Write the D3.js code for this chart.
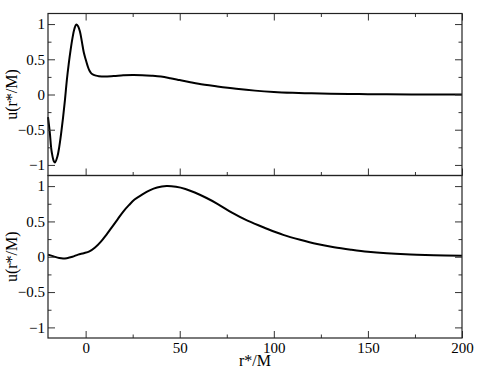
<!DOCTYPE html>
<html>
<head>
<meta charset="utf-8">
<script src="https://cdn.jsdelivr.net/npm/d3@7"></script>
<style>
  body { margin: 0; background: #fff; }
</style>
</head>
<body>
<svg id="chart" width="479" height="370"></svg>
<script>
// values
const xMajor = [0, 50, 100, 150, 200];
const xMinor = [25, 75, 125, 175];
const yMajor = [-1, -0.5, 0, 0.5, 1];
const yMinor = [-0.75, -0.25, 0.25, 0.75];
const xLabel = "r*/M";
const yLabel = "u(r*/M)";

const topX = [-20, -19, -18.4, -18, -17, -16.3, -15, -14, -13, -12, -11, -10, -9, -8, -7, -6, -5, -4, -3, -2, -1, 0, 1, 2, 3, 4, 5.5, 7, 10, 15, 20, 25, 30, 35, 40, 45, 50, 55, 60, 70, 80, 90, 100, 110, 120, 130, 140, 150, 160, 180, 200];
const topY = [-0.32, -0.55, -0.74, -0.82, -0.94, -0.965, -0.88, -0.74, -0.55, -0.33, -0.08, 0.2, 0.43, 0.63, 0.8, 0.93, 0.995, 0.97, 0.89, 0.75, 0.6, 0.5, 0.41, 0.34, 0.3, 0.282, 0.268, 0.26, 0.254, 0.262, 0.272, 0.278, 0.275, 0.267, 0.255, 0.232, 0.205, 0.178, 0.152, 0.115, 0.082, 0.055, 0.036, 0.024, 0.016, 0.011, 0.008, 0.005, 0.003, 0.001, 0];

const bottomX = [-20, -17, -14, -12, -10, -7, -4, -1, 2, 5, 8, 11, 14, 17, 20, 23, 26, 30, 34, 38, 43, 48, 53, 58, 64, 70, 78, 86, 96, 105, 114, 123, 132, 141, 150, 160, 170, 185, 200];
const bottomY = [0.03, 0.005, -0.018, -0.025, -0.02, 0.0, 0.03, 0.05, 0.075, 0.13, 0.21, 0.31, 0.42, 0.53, 0.64, 0.73, 0.81, 0.88, 0.94, 0.98, 1.0, 0.99, 0.96, 0.91, 0.835, 0.75, 0.62, 0.51, 0.40, 0.31, 0.24, 0.18, 0.135, 0.1, 0.07, 0.048, 0.034, 0.022, 0.014];

const serif = "'Liberation Serif', 'Times New Roman', serif";
const svg = d3.select("#chart");
const left = 48, right = 462;

const x = d3.scaleLinear().domain([-20, 200]).range([left, right]);

const panels = [
  { xs: topX, ys: topY, top: 13.5, bottom: 175.5, xLabels: false },
  { xs: bottomX, ys: bottomY, top: 175.5, bottom: 338, xLabels: true }
];

panels.forEach((p, idx) => {
  const y = d3.scaleLinear().domain([-1.15, 1.15]).range([p.bottom, p.top]);
  const g = svg.append("g");

  // curve
  const pts = p.xs.map((v, i) => [v, p.ys[i]]);
  g.append("path")
    .datum(pts)
    .attr("fill", "none")
    .attr("stroke", "#000")
    .attr("stroke-width", 2)
    .attr("d", d3.line().x(d => x(d[0])).y(d => y(d[1])).curve(d3.curveCatmullRom.alpha(0.5)));

  //left axis, labels outside, ticks inside
  g.append("g").attr("transform", `translate(${left},0)`)
    .call(d3.axisLeft(y).tickValues(yMajor).tickSizeInner(-7).tickSizeOuter(0).tickPadding(3)
      .tickFormat(d3.format("")));
  g.append("g").attr("transform", `translate(${left},0)`)
    .call(d3.axisLeft(y).tickValues(yMinor).tickSizeInner(-3.5).tickSizeOuter(0).tickFormat(""));

  //right axis, ticks only
  g.append("g").attr("transform", `translate(${right},0)`)
    .call(d3.axisRight(y).tickValues(yMajor).tickSizeInner(-7).tickSizeOuter(0).tickFormat(""));
  g.append("g").attr("transform", `translate(${right},0)`)
    .call(d3.axisRight(y).tickValues(yMinor).tickSizeInner(-3.5).tickSizeOuter(0).tickFormat(""));

  //bottom axis
  g.append("g").attr("transform", `translate(0,${p.bottom})`)
    .call(d3.axisBottom(x).tickValues(xMajor).tickSizeInner(-7).tickSizeOuter(0).tickPadding(4)
      .tickFormat(p.xLabels ? d3.format("") : ""));
  g.append("g").attr("transform", `translate(0,${p.bottom})`)
    .call(d3.axisBottom(x).tickValues(xMinor).tickSizeInner(-3.5).tickSizeOuter(0).tickFormat(""));

  //top axis only on the upper panel
  if (idx === 0) {
    g.append("g").attr("transform", `translate(0,${p.top})`)
      .call(d3.axisTop(x).tickValues(xMajor).tickSizeInner(-7).tickSizeOuter(0).tickFormat(""));
    g.append("g").attr("transform", `translate(0,${p.top})`)
      .call(d3.axisTop(x).tickValues(xMinor).tickSizeInner(-3.5).tickSizeOuter(0).tickFormat(""));
  }

  // frame
  g.append("rect")
    .attr("x", left).attr("y", p.top)
    .attr("width", right - left).attr("height", p.bottom - p.top)
    .attr("fill", "none").attr("stroke", "#222").attr("stroke-width", 1.2);

  // y label
  g.append("text")
    .attr("transform", `translate(17,${y(0)}) rotate(-90)`)
    .attr("text-anchor", "middle")
    .style("font-family", serif)
    .style("font-size", "16px")
    .text(yLabel);
});

svg.selectAll(".domain").remove();
svg.selectAll(".tick line").attr("stroke", "#333");
svg.selectAll(".tick text")
  .style("font-family", serif)
  .style("font-size", "15px")
  .attr("fill", "#000");

svg.append("text")
  .attr("x", (left + right) / 2).attr("y", 366)
  .attr("text-anchor", "middle")
  .style("font-family", serif)
  .style("font-size", "16px")
  .text(xLabel);
</script>
</body>
</html>
